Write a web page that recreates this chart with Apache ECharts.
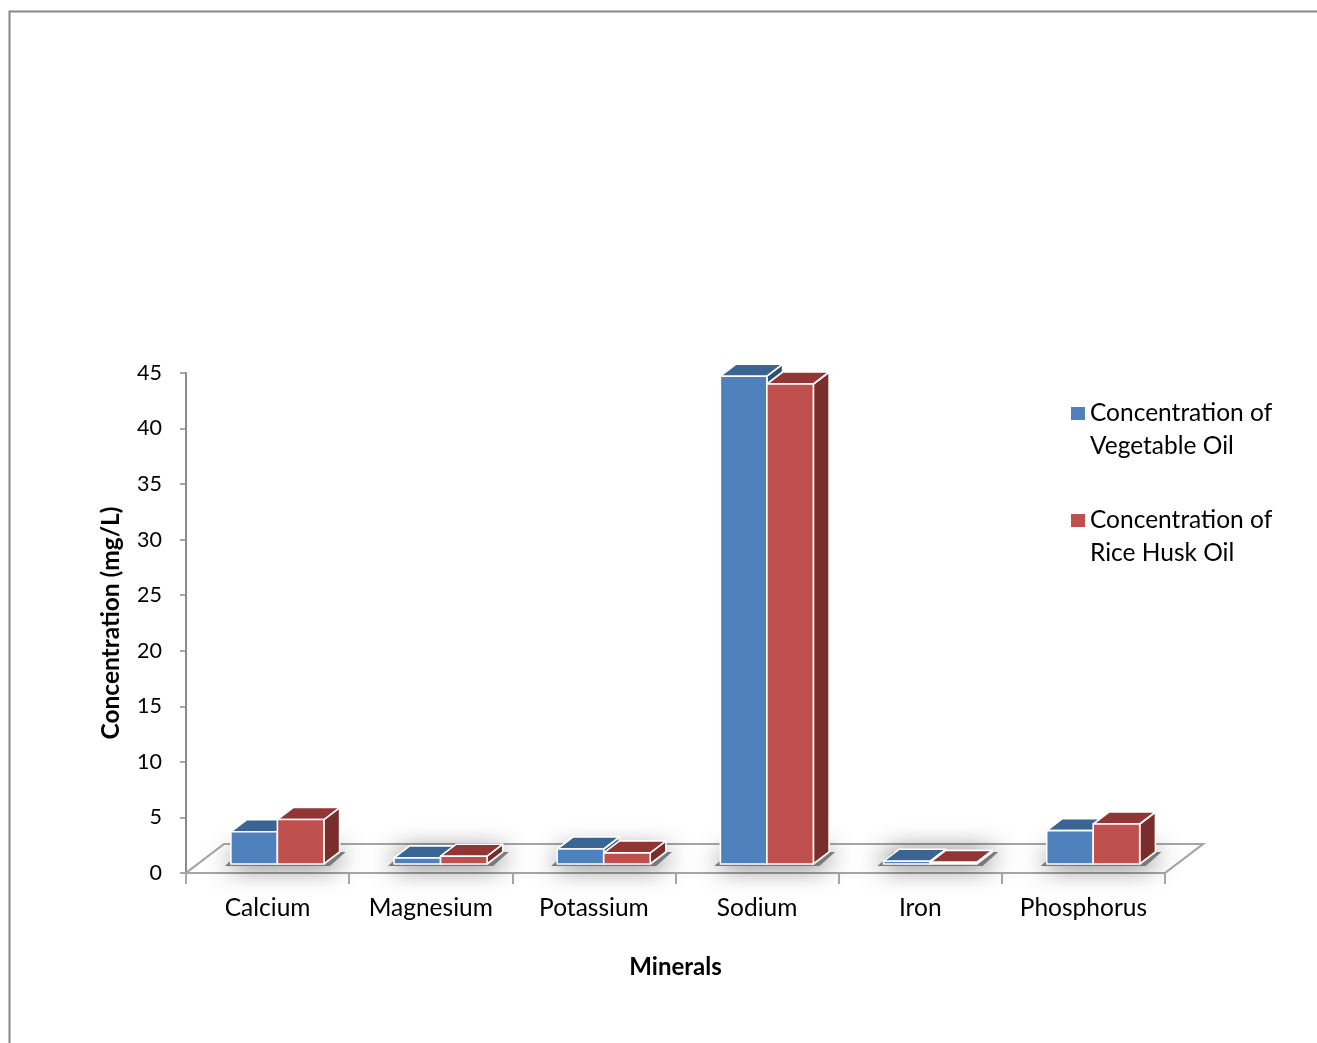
<!DOCTYPE html>
<html>
<head>
<meta charset="utf-8">
<style>
  html, body { margin: 0; padding: 0; background: #ffffff; }
  #chart { width: 1317px; height: 1043px; }
</style>
<script src="https://cdn.jsdelivr.net/npm/echarts@6/dist/echarts.min.js"></script>
</head>
<body>
<div id="chart"></div>
<script>
// Mineral concentrations (mg/L) in the two oils
const minerals = ['Calcium', 'Magnesium', 'Potassium', 'Sodium', 'Iron', 'Phosphorus'];
const vegetableOil = [2.9, 0.55, 1.35, 43.9, 0.25, 3.0];
const riceHuskOil = [4.0, 0.7, 1.0, 43.2, 0.15, 3.6];
const seriesNames = ['Concentration of Vegetable Oil', 'Concentration of Rice Husk Oil'];
const yTicks = { min: 0, max: 45, interval: 5 };

const FONT = 'Lato';

// Oblique projection of the floor depth (pixels) and where the columns sit within it
const FLOOR_DX = 38, FLOOR_DY = 29;
const FRONT_F = 9 / 29, BACK_F = 21 / 29;
const BAR_FRAC = 0.285;

const palettes = [
  { front: '#4F81BD', top: '#3A6492', side: '#30527A' },
  { front: '#C0504D', top: '#913634', side: '#7A2E2C' }
];

function boxRenderer(seriesIdx) {
  return function (params, api) {
    const cat = api.value(0);
    const val = api.value(1);
    const band = api.size([1, 0])[0];
    const bw = band * BAR_FRAC;
    const base = api.coord([cat, 0]);
    const top = api.coord([cat, val]);
    const sx = FLOOR_DX * FRONT_F, sy = FLOOR_DY * FRONT_F;
    const ddx = FLOOR_DX * (BACK_F - FRONT_F), ddy = FLOOR_DY * (BACK_F - FRONT_F);
    const cx = base[0] + sx - 2;
    const x0 = cx - bw + seriesIdx * bw;
    const x1 = x0 + bw;
    const yb = base[1] - sy;
    const yt = top[1] - sy;
    const pal = palettes[seriesIdx];
    const stroke = { stroke: '#ffffff', lineWidth: 1.6, lineJoin: 'round' };
    return {
      type: 'group',
      children: [
        {
          type: 'polygon',
          shape: { points: [[x1, yb], [x1 + ddx, yb - ddy], [x1 + ddx, yt - ddy], [x1, yt]] },
          style: Object.assign({ fill: pal.side }, stroke)
        },
        {
          type: 'polygon',
          shape: { points: [[x0, yt], [x1, yt], [x1 + ddx, yt - ddy], [x0 + ddx, yt - ddy]] },
          style: Object.assign({ fill: pal.top }, stroke)
        },
        {
          type: 'rect',
          shape: { x: x0, y: yt, width: bw, height: yb - yt },
          style: Object.assign({ fill: pal.front }, stroke)
        }
      ]
    };
  };
}

function floorRenderer(params, api) {
  const cs = params.coordSys;
  const xL = cs.x, xR = cs.x + cs.width, y = cs.y + cs.height;
  return {
    type: 'polygon',
    shape: { points: [[xL, y], [xR, y], [xR + FLOOR_DX, y - FLOOR_DY], [xL + FLOOR_DX, y - FLOOR_DY]] },
    style: { fill: '#ffffff', stroke: '#A6A6A6', lineWidth: 2.2 }
  };
}

// soft grey shade cast on the floor around each column pair
function shadowRenderer(params, api) {
  const cat = api.value(0);
  const band = api.size([1, 0])[0];
  const bw = band * BAR_FRAC;
  const base = api.coord([cat, 0]);
  const sx = FLOOR_DX * FRONT_F, sy = FLOOR_DY * FRONT_F;
  const ddx = FLOOR_DX * (BACK_F - FRONT_F), ddy = FLOOR_DY * (BACK_F - FRONT_F);
  const cx = base[0] + sx - 2;
  const x0 = cx - bw, x1 = cx + bw;
  const yb = base[1] - sy;
  return {
    type: 'polygon',
    shape: { points: [[x0 - 6, yb + 2], [x1 + 6, yb + 2], [x1 + ddx + 6, yb - ddy], [x0 + ddx - 6, yb - ddy]] },
    style: { fill: '#7a7a7a', shadowBlur: 26, shadowColor: 'rgba(0,0,0,0.7)' }
  };
}

const chart = echarts.init(document.getElementById('chart'), null, { renderer: 'canvas' });

chart.setOption({
  backgroundColor: '#ffffff',
  animation: false,
  textStyle: { fontFamily: FONT },
  graphic: [
    {
      type: 'polyline',
      shape: { points: [[9.5, 1043], [9.5, 11.5], [1317, 11.5]] },
      style: { stroke: '#878787', lineWidth: 2, fill: null },
      silent: true
    }
  ],
  grid: { left: 186, top: 373, width: 979, height: 500 },
  legend: {
    orient: 'vertical',
    left: 1071,
    top: 364,
    padding: 0,
    itemWidth: 14,
    itemHeight: 13,
    itemGap: 8,
    icon: 'rect',
    data: seriesNames,
    // leading blank line keeps the marker level with the first text line
    formatter: function (name) { return '\n' + name.replace(' of ', ' of\n'); },
    textStyle: {
      fontFamily: FONT,
      fontSize: 24.5,
      color: '#000000',
      lineHeight: 33
    }
  },
  xAxis: {
    type: 'category',
    data: minerals,
    name: 'Minerals',
    nameLocation: 'middle',
    nameGap: 82,
    nameTextStyle: { fontFamily: FONT, fontSize: 24, fontWeight: 'bold', color: '#000000' },
    axisLine: { show: true, lineStyle: { color: '#A6A6A6', width: 2 } },
    axisTick: { show: true, interval: 0, length: 11, lineStyle: { color: '#8C8C8C', width: 1.5 } },
    axisLabel: { interval: 0, fontFamily: FONT, fontSize: 24.5, color: '#000000', margin: 23 },
    splitLine: { show: false }
  },
  yAxis: {
    type: 'value',
    min: yTicks.min,
    max: yTicks.max,
    interval: yTicks.interval,
    name: 'Concentration (mg/L)',
    nameLocation: 'middle',
    nameGap: 62,
    nameTextStyle: { fontFamily: FONT, fontSize: 24.5, fontWeight: 'bold', color: '#000000' },
    axisLine: { show: true, lineStyle: { color: '#8C8C8C', width: 2 } },
    axisTick: { show: true, length: 6, lineStyle: { color: '#8C8C8C', width: 1.5 } },
    axisLabel: { fontFamily: FONT, fontSize: 21.5, color: '#000000', margin: 24 },
    splitLine: { show: false }
  },
  series: [
    {
      type: 'custom',
      name: 'floor',
      silent: true,
      z: 1,
      renderItem: floorRenderer,
      data: [[0, 0]]
    },
    {
      type: 'custom',
      name: 'shadow',
      silent: true,
      z: 2,
      renderItem: shadowRenderer,
      data: minerals.map(function (m, i) { return [i, 0]; })
    },
    {
      type: 'custom',
      name: seriesNames[0],
      z: 3,
      itemStyle: { color: palettes[0].front },
      renderItem: boxRenderer(0),
      data: vegetableOil.map(function (v, i) { return [i, v]; })
    },
    {
      type: 'custom',
      name: seriesNames[1],
      z: 4,
      itemStyle: { color: palettes[1].front },
      renderItem: boxRenderer(1),
      data: riceHuskOil.map(function (v, i) { return [i, v]; })
    }
  ]
});
</script>
</body>
</html>
